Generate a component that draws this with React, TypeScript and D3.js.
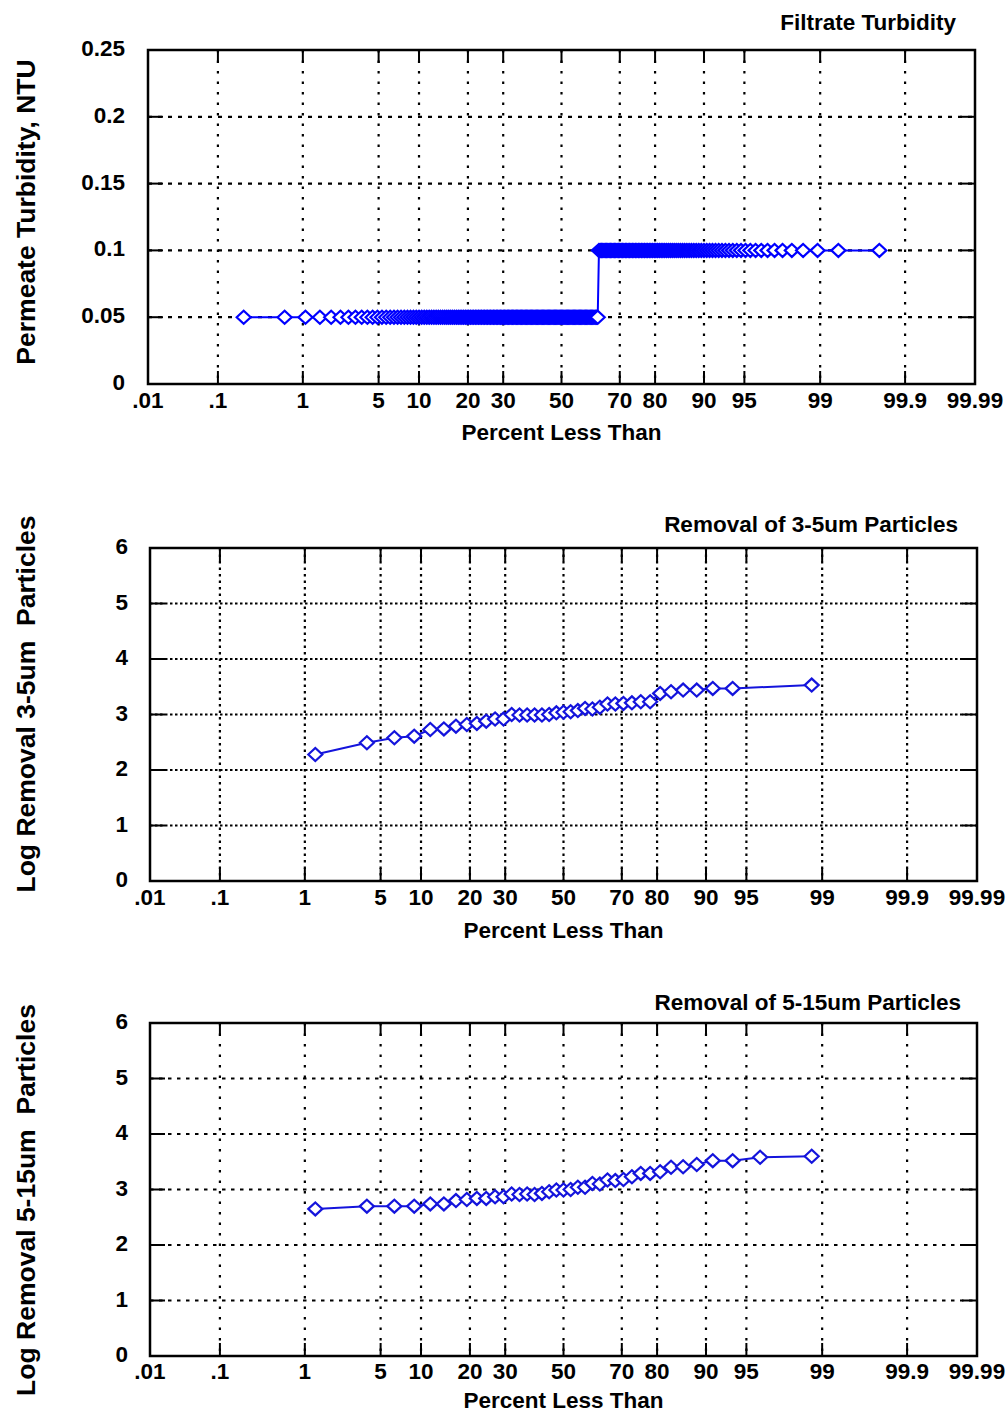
import React from 'react';
import * as d3 from 'd3';

// ---------- data ----------
const xTickValues = [0.01, 0.1, 1, 5, 10, 20, 30, 50, 70, 80, 90, 95, 99, 99.9, 99.99];
const xTickLabels = ['.01', '.1', '1', '5', '10', '20', '30', '50', '70', '80', '90', '95', '99', '99.9', '99.99'];

const turbidityTicks = [0, 0.05, 0.1, 0.15, 0.2, 0.25];
const turbidityTickLabels = ['0', '0.05', '0.1', '0.15', '0.2', '0.25'];
const removalTicks = [0, 1, 2, 3, 4, 5, 6];
const removalTickLabels = ['0', '1', '2', '3', '4', '5', '6'];

// sorted filtrate turbidity readings, NTU (148 x 0.05, 87 x 0.1)
const turbidity = [
  0.05, 0.05, 0.05, 0.05, 0.05, 0.05, 0.05, 0.05, 0.05, 0.05, 0.05, 0.05, 0.05, 0.05, 0.05, 0.05, 0.05, 0.05, 0.05, 0.05,
  0.05, 0.05, 0.05, 0.05, 0.05, 0.05, 0.05, 0.05, 0.05, 0.05, 0.05, 0.05, 0.05, 0.05, 0.05, 0.05, 0.05, 0.05, 0.05, 0.05,
  0.05, 0.05, 0.05, 0.05, 0.05, 0.05, 0.05, 0.05, 0.05, 0.05, 0.05, 0.05, 0.05, 0.05, 0.05, 0.05, 0.05, 0.05, 0.05, 0.05,
  0.05, 0.05, 0.05, 0.05, 0.05, 0.05, 0.05, 0.05, 0.05, 0.05, 0.05, 0.05, 0.05, 0.05, 0.05, 0.05, 0.05, 0.05, 0.05, 0.05,
  0.05, 0.05, 0.05, 0.05, 0.05, 0.05, 0.05, 0.05, 0.05, 0.05, 0.05, 0.05, 0.05, 0.05, 0.05, 0.05, 0.05, 0.05, 0.05, 0.05,
  0.05, 0.05, 0.05, 0.05, 0.05, 0.05, 0.05, 0.05, 0.05, 0.05, 0.05, 0.05, 0.05, 0.05, 0.05, 0.05, 0.05, 0.05, 0.05, 0.05,
  0.05, 0.05, 0.05, 0.05, 0.05, 0.05, 0.05, 0.05, 0.05, 0.05, 0.05, 0.05, 0.05, 0.05, 0.05, 0.05, 0.05, 0.05, 0.05, 0.05,
  0.05, 0.05, 0.05, 0.05, 0.05, 0.05, 0.05, 0.05,
  0.1, 0.1, 0.1, 0.1, 0.1, 0.1, 0.1, 0.1, 0.1, 0.1, 0.1, 0.1, 0.1, 0.1, 0.1, 0.1, 0.1, 0.1, 0.1, 0.1,
  0.1, 0.1, 0.1, 0.1, 0.1, 0.1, 0.1, 0.1, 0.1, 0.1, 0.1, 0.1, 0.1, 0.1, 0.1, 0.1, 0.1, 0.1, 0.1, 0.1,
  0.1, 0.1, 0.1, 0.1, 0.1, 0.1, 0.1, 0.1, 0.1, 0.1, 0.1, 0.1, 0.1, 0.1, 0.1, 0.1, 0.1, 0.1, 0.1, 0.1,
  0.1, 0.1, 0.1, 0.1, 0.1, 0.1, 0.1, 0.1, 0.1, 0.1, 0.1, 0.1, 0.1, 0.1, 0.1, 0.1, 0.1, 0.1, 0.1, 0.1,
  0.1, 0.1, 0.1, 0.1, 0.1, 0.1, 0.1,
];

const removal35Pct = [
  1.28, 3.85, 6.41, 8.97, 11.54, 14.1, 16.67, 19.23, 21.79, 24.36, 26.92, 29.49, 32.05, 34.62, 37.18, 39.74, 42.31,
  44.87, 47.44, 50.0, 52.56, 55.13, 57.69, 60.26, 62.82, 65.38, 67.95, 70.51, 73.08, 75.64, 78.21, 80.77, 83.33,
  85.9, 88.46, 91.03, 93.59, 98.72,
];
const removal35 = [
  2.28, 2.49, 2.58, 2.61, 2.73, 2.74, 2.79, 2.82, 2.84, 2.88, 2.92, 2.92, 3.0, 2.99, 2.99, 2.99, 2.99,
  3.0, 3.03, 3.04, 3.05, 3.07, 3.11, 3.1, 3.13, 3.19, 3.19, 3.2, 3.21, 3.23, 3.23, 3.38, 3.41,
  3.44, 3.44, 3.47, 3.47, 3.53,
];

const removal515Pct = [
  1.28, 3.85, 6.41, 8.97, 11.54, 14.1, 16.67, 19.23, 21.79, 24.36, 26.92, 29.49, 32.05, 34.62, 37.18, 39.74, 42.31,
  44.87, 47.44, 50.0, 52.56, 55.13, 57.69, 60.26, 62.82, 65.38, 67.95, 70.51, 73.08, 75.64, 78.21, 80.77, 83.33,
  85.9, 88.46, 91.03, 93.59, 96.15, 98.72,
];
const removal515 = [
  2.65, 2.7, 2.7, 2.7, 2.74, 2.74, 2.8, 2.82, 2.84, 2.84, 2.87, 2.87, 2.92, 2.91, 2.92, 2.91, 2.93,
  2.96, 2.99, 2.99, 3.0, 3.04, 3.04, 3.11, 3.1, 3.17, 3.16, 3.18, 3.23, 3.29, 3.29, 3.32, 3.4,
  3.41, 3.45, 3.52, 3.52, 3.58, 3.6,
];

// ---------- helpers ----------
function probit(p: number): number {
  const a = [-3.969683028665376e1, 2.209460984245205e2, -2.759285104469687e2, 1.38357751867269e2, -3.066479806614716e1, 2.506628277459239];
  const b = [-5.447609879822406e1, 1.615858368580409e2, -1.556989798598866e2, 6.680131188771972e1, -1.328068155288572e1];
  const c = [-7.784894002430293e-3, -3.223964580411365e-1, -2.400758277161838, -2.549732539343734, 4.374664141464968, 2.938163982698783];
  const d = [7.784695709041462e-3, 3.224671290700398e-1, 2.445134137142996, 3.754408661907416];
  const plow = 0.02425;
  if (p < plow) {
    const q = Math.sqrt(-2 * Math.log(p));
    return (((((c[0] * q + c[1]) * q + c[2]) * q + c[3]) * q + c[4]) * q + c[5]) / ((((d[0] * q + d[1]) * q + d[2]) * q + d[3]) * q + 1);
  }
  if (p <= 1 - plow) {
    const q = p - 0.5;
    const r = q * q;
    return ((((((a[0] * r + a[1]) * r + a[2]) * r + a[3]) * r + a[4]) * r + a[5]) * q) / (((((b[0] * r + b[1]) * r + b[2]) * r + b[3]) * r + b[4]) * r + 1);
  }
  const q = Math.sqrt(-2 * Math.log(1 - p));
  return -(((((c[0] * q + c[1]) * q + c[2]) * q + c[3]) * q + c[4]) * q + c[5]) / ((((d[0] * q + d[1]) * q + d[2]) * q + d[3]) * q + 1);
}

const FONT = '"Liberation Sans", Arial, Helvetica, sans-serif';

type PanelProps = {
  left: number; right: number; top: number; bottom: number;
  yMax: number; yTicks: number[]; yTickLabels: string[];
  pct: number[]; vals: number[];
  title: string; titleRight: number; titleY: number;
  yLabel: string; yLabelY: number;
  xTickLabelY: number; xTitleY: number; yTickLabelX: number;
  hDash: string; vDash: string; color: string;
};

function Panel(p: PanelProps) {
  const zMin = probit(0.0001);
  const zMax = probit(0.9999);
  const xz = d3.scaleLinear().domain([zMin, zMax]).range([p.left, p.right]);
  const x = (pc: number) => xz(probit(pc / 100));
  const y = d3.scaleLinear().domain([0, p.yMax]).range([p.bottom, p.top]);
  const pts = p.pct.map((pc, i) => [x(pc), y(p.vals[i])] as [number, number]);
  const line = d3.line()(pts) || '';
  const innerX = xTickValues.slice(1, -1);
  const innerY = p.yTicks.slice(1, -1);
  const mw = 7, mh = 6.5;
  return (
    <g>
      {/* grid */}
      {innerX.map((v, i) => (
        <line key={'gx' + i} x1={x(v)} x2={x(v)} y1={p.top} y2={p.bottom} stroke="#000" strokeWidth={2.2} strokeDasharray={p.vDash} />
      ))}
      {innerY.map((v, i) => (
        <line key={'gy' + i} x1={p.left} x2={p.right} y1={y(v)} y2={y(v)} stroke="#000" strokeWidth={2.2} strokeDasharray={p.hDash} />
      ))}
      {/* ticks */}
      {innerX.map((v, i) => (
        <g key={'tx' + i}>
          <line x1={x(v)} x2={x(v)} y1={p.bottom} y2={p.bottom - 13} stroke="#000" strokeWidth={2} />
          <line x1={x(v)} x2={x(v)} y1={p.top} y2={p.top + 13} stroke="#000" strokeWidth={2} />
        </g>
      ))}
      {innerY.map((v, i) => (
        <g key={'ty' + i}>
          <line x1={p.left} x2={p.left + 15} y1={y(v)} y2={y(v)} stroke="#000" strokeWidth={2} />
          <line x1={p.right} x2={p.right - 15} y1={y(v)} y2={y(v)} stroke="#000" strokeWidth={2} />
        </g>
      ))}
      <rect x={p.left} y={p.top} width={p.right - p.left} height={p.bottom - p.top} fill="none" stroke="#000" strokeWidth={2.5} />
      {/* data */}
      <path d={line} fill="none" stroke={p.color} strokeWidth={2} />
      {pts.map(([px, py], i) => (
        <path key={'m' + i} d={`M${px - mw},${py}L${px},${py - mh}L${px + mw},${py}L${px},${py + mh}Z`} fill="#fff" stroke={p.color} strokeWidth={2.2} />
      ))}
      {/* tick labels */}
      {xTickValues.map((v, i) => (
        <text key={'xl' + i} x={x(v)} y={p.xTickLabelY} textAnchor="middle" fontFamily={FONT} fontWeight="bold" fontSize={22.5}>
          {xTickLabels[i]}
        </text>
      ))}
      {p.yTicks.map((v, i) => (
        <text key={'yl' + i} x={p.yTickLabelX} y={y(v) + 6} textAnchor="end" fontFamily={FONT} fontWeight="bold" fontSize={22.5}>
          {p.yTickLabels[i]}
        </text>
      ))}
      <text x={(p.left + p.right) / 2} y={p.xTitleY} textAnchor="middle" fontFamily={FONT} fontWeight="bold" fontSize={22.5}>
        Percent Less Than
      </text>
      <text x={p.titleRight} y={p.titleY} textAnchor="end" fontFamily={FONT} fontWeight="bold" fontSize={22.5}>
        {p.title}
      </text>
      <text
        transform={`translate(35,${p.yLabelY}) rotate(-90)`}
        textAnchor="middle"
        fontFamily={FONT}
        fontWeight="bold"
        fontSize={26.5}
        style={{ whiteSpace: 'pre' }}
      >
        {p.yLabel}
      </text>
    </g>
  );
}

export default function App() {
  const n = turbidity.length;
  const turbPct = turbidity.map((_, i) => ((i + 0.5) / n) * 100);
  return (
    <svg width={1006} height={1414} style={{ position: 'absolute', left: 0, top: 0, background: '#fff' }}>
      <rect x={0} y={0} width={1006} height={1414} fill="#fff" />
      <Panel
        left={148} right={975} top={50} bottom={384}
        yMax={0.25} yTicks={turbidityTicks} yTickLabels={turbidityTickLabels}
        pct={turbPct} vals={turbidity}
        title="Filtrate Turbidity" titleRight={956} titleY={30}
        yLabel="Permeate Turbidity, NTU" yLabelY={212}
        xTickLabelY={408} xTitleY={440} yTickLabelX={125}
        hDash="4,6" vDash="2.5,8" color="#0000ff"
      />
      <Panel
        left={150} right={977} top={548} bottom={881}
        yMax={6} yTicks={removalTicks} yTickLabels={removalTickLabels}
        pct={removal35Pct} vals={removal35}
        title="Removal of 3-5um Particles" titleRight={958} titleY={532}
        yLabel="Log Removal 3-5um  Particles" yLabelY={704}
        xTickLabelY={905} xTitleY={938} yTickLabelX={128}
        hDash="2.5,2.5" vDash="2.5,4" color="#1414dc"
      />
      <Panel
        left={150} right={977} top={1023} bottom={1356}
        yMax={6} yTicks={removalTicks} yTickLabels={removalTickLabels}
        pct={removal515Pct} vals={removal515}
        title="Removal of 5-15um Particles" titleRight={961} titleY={1010}
        yLabel="Log Removal 5-15um  Particles" yLabelY={1200}
        xTickLabelY={1379} xTitleY={1408} yTickLabelX={128}
        hDash="3.5,5.5" vDash="2.5,8" color="#1414dc"
      />
    </svg>
  );
}
